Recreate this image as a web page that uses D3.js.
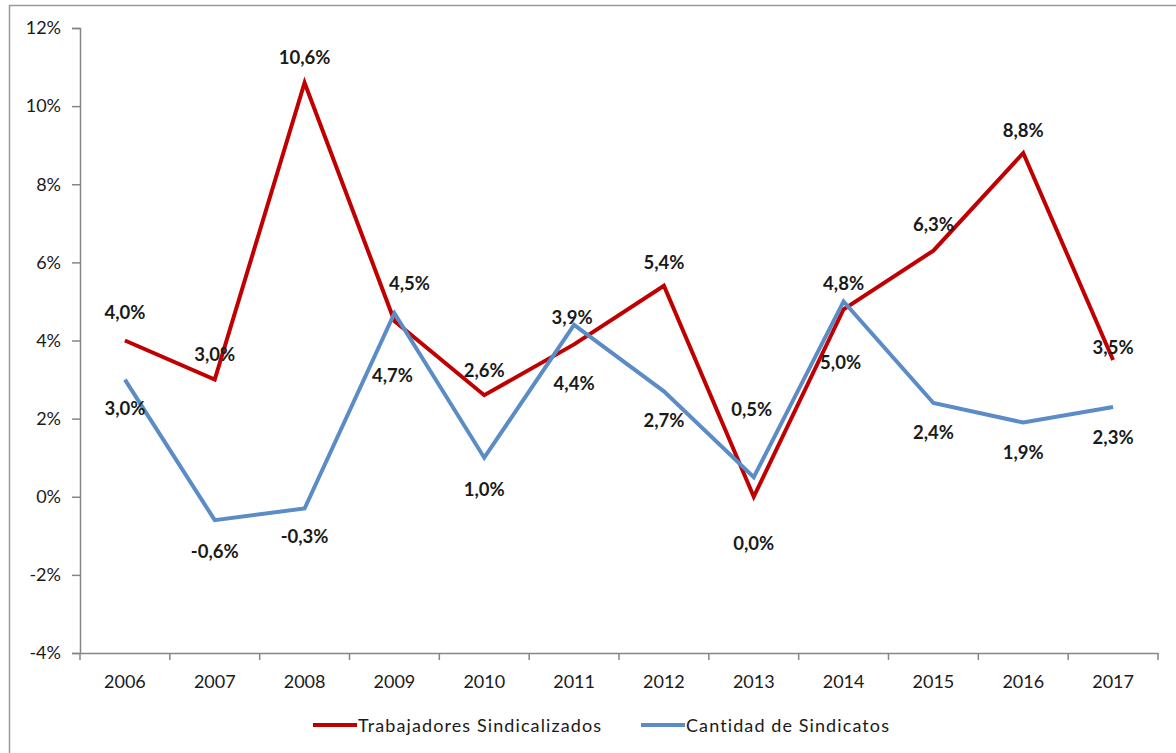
<!DOCTYPE html>
<html>
<head>
<meta charset="utf-8">
<script src="https://cdn.jsdelivr.net/npm/d3@7"></script>
<style>
  body { margin: 0; background: #fff; }
  svg text { font-family: Lato, "Open Sans", sans-serif; fill: #1a1a1a; }
</style>
</head>
<body>
<div id="chart"></div>
<script>
// data
const years = ['2006','2007','2008','2009','2010','2011','2012','2013','2014','2015','2016','2017'];
const trabajadores = [4.0, 3.0, 10.6, 4.5, 2.6, 3.9, 5.4, 0.0, 4.8, 6.3, 8.8, 3.5];
const sindicatos = [3.0, -0.6, -0.3, 4.7, 1.0, 4.4, 2.7, 0.5, 5.0, 2.4, 1.9, 2.3];
const yTicks = [-4, -2, 0, 2, 4, 6, 8, 10, 12];
const seriesNames = ['Trabajadores Sindicalizados', 'Cantidad de Sindicatos'];

// label placement (px from point, like Excel's manual label moves)
const trabLabelDy = [-29, -26, -26, -38, -25, -27, -24, 46, -26, -27, -23, -13];
const trabLabelDx = [0, 0, 0, 15, 0, -2, 0, 0, 0, 0, 0, 0];
const sindLabelDy = [28, 31, 28, 62, 31, 58, 29, -68, 61, 29, 29, 30];
const sindLabelDx = [0, 0, 0, -2, 0, 0, 0, -2, -3, 0, 0, 0];

const width = 1176, height = 753;
const margin = {left: 80, right: 18, top: 28, bottom: 100};

const svg = d3.select('#chart').append('svg')
  .attr('width', width)
  .attr('height', height);

// chart frame
svg.append('rect')
  .attr('x', 9.5).attr('y', 5.5)
  .attr('width', 1200).attr('height', 800)
  .attr('fill', 'none')
  .attr('stroke', '#9a9a9a')
  .attr('stroke-width', 1.5);

const x = d3.scaleBand()
  .domain(years)
  .range([margin.left, width - margin.right]);

const y = d3.scaleLinear()
  .domain([-4, 12])
  .range([height - margin.bottom, margin.top]);

// y axis
const yAxis = svg.append('g')
  .attr('transform', `translate(${margin.left},0)`)
  .call(d3.axisLeft(y).tickValues(yTicks).tickSize(8).tickPadding(11)
    .tickFormat(d => d + '%'));
yAxis.select('.domain').attr('stroke', '#868686').attr('stroke-width', 1.5);
yAxis.selectAll('.tick line').attr('stroke', '#868686').attr('stroke-width', 1.5);
yAxis.selectAll('text').style('font-size', '18px').attr('fill', '#1a1a1a');

// x axis at bottom (-4%)
const xAxis = svg.append('g')
  .attr('transform', `translate(0,${y(-4)})`)
  .call(d3.axisBottom(x).tickSize(0).tickPadding(22));
xAxis.select('.domain').attr('stroke', '#868686').attr('stroke-width', 1.5);
xAxis.selectAll('text').style('font-size', '18px').attr('fill', '#1a1a1a');

// tick marks between categories
svg.append('g')
  .selectAll('line')
  .data(years.concat(['end']))
  .enter().append('line')
  .attr('x1', (d, i) => i < years.length ? x(d) : x.range()[1])
  .attr('x2', (d, i) => i < years.length ? x(d) : x.range()[1])
  .attr('y1', y(-4))
  .attr('y2', y(-4) + 7)
  .attr('stroke', '#868686')
  .attr('stroke-width', 1.5);

const cx = d => x(d) + x.bandwidth() / 2;

const line = d3.line()
  .x((d, i) => cx(years[i]))
  .y(d => y(d));

const colors = ['#c00000', '#5b8cc6'];

[trabajadores, sindicatos].forEach((vals, k) => {
  svg.append('path')
    .datum(vals)
    .attr('d', line)
    .attr('fill', 'none')
    .attr('stroke', colors[k])
    .attr('stroke-width', 4)
    .attr('stroke-linejoin', 'miter');
});

const fmt = v => v.toFixed(1).replace('.', ',') + '%';

// data labels
[[trabajadores, trabLabelDy, trabLabelDx], [sindicatos, sindLabelDy, sindLabelDx]].forEach(([vals, dys, dxs]) => {
  svg.append('g')
    .selectAll('text')
    .data(vals)
    .enter().append('text')
    .attr('x', (d, i) => cx(years[i]) + dxs[i])
    .attr('y', (d, i) => y(d) + dys[i])
    .attr('text-anchor', 'middle')
    .attr('dominant-baseline', 'central')
    .style('font-size', '18.5px')
    .style('font-weight', 'bold')
    .text(d => fmt(d));
});

// legend
const legendX = [313, 641];
const legend = svg.append('g');
seriesNames.forEach((name, k) => {
  legend.append('line')
    .attr('x1', legendX[k]).attr('x2', legendX[k] + 44)
    .attr('y1', 725).attr('y2', 725)
    .attr('stroke', colors[k])
    .attr('stroke-width', 4);
  legend.append('text')
    .attr('x', legendX[k] + 45)
    .attr('y', 725)
    .attr('dominant-baseline', 'central')
    .style('font-size', '18px')
    .style('letter-spacing', '1.1px')
    .text(name);
});
</script>
</body>
</html>
